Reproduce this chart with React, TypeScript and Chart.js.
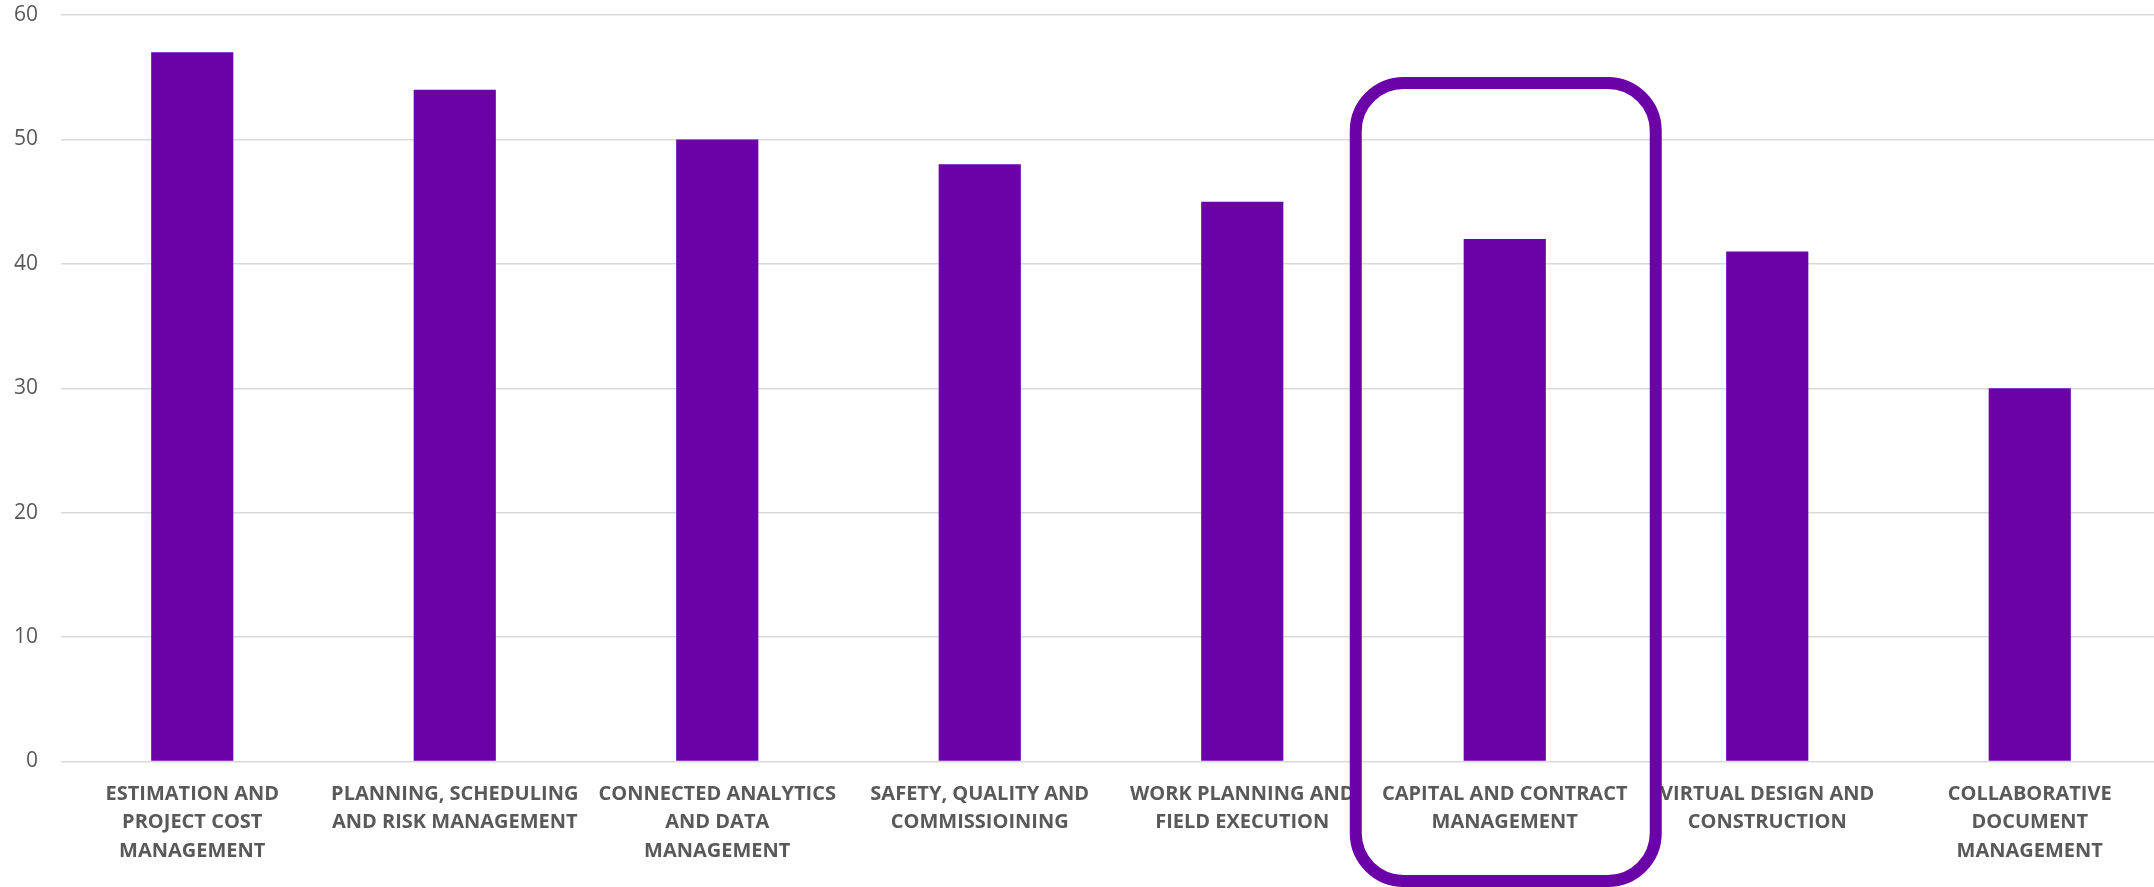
import React, { useEffect, useRef } from "react";
import { Chart, registerables } from "chart.js";

Chart.register(...registerables);

const categories: string[][] = [
  ["ESTIMATION AND", "PROJECT COST", "MANAGEMENT"],
  ["PLANNING, SCHEDULING", "AND RISK MANAGEMENT"],
  ["CONNECTED ANALYTICS", "AND DATA", "MANAGEMENT"],
  ["SAFETY, QUALITY AND", "COMMISSIOINING"],
  ["WORK PLANNING AND", "FIELD EXECUTION"],
  ["CAPITAL AND CONTRACT", "MANAGEMENT"],
  ["VIRTUAL DESIGN AND", "CONSTRUCTION"],
  ["COLLABORATIVE", "DOCUMENT", "MANAGEMENT"],
];

const values: number[] = [57, 54, 50, 48, 45, 42, 41, 30];

const highlightIndex = 5;

const PURPLE = "#6A02A8";
const TEXT = "#595959";

const highlightPlugin = {
  id: "highlightBox",
  afterDraw(chart: any) {
    const { ctx, chartArea } = chart;
    const x = chart.scales.x;
    const cx = x.getPixelForValue(highlightIndex) + 1;
    const halfW = 150;
    const left = cx - halfW;
    const right = cx + halfW;
    const top = chartArea.top + 68;
    const bottom = chart.height - 6;
    const r = 48;
    ctx.save();
    ctx.strokeStyle = PURPLE;
    ctx.lineWidth = 12;
    ctx.beginPath();
    ctx.moveTo(left + r, top);
    ctx.lineTo(right - r, top);
    ctx.arcTo(right, top, right, top + r, r);
    ctx.lineTo(right, bottom - r);
    ctx.arcTo(right, bottom, right - r, bottom, r);
    ctx.lineTo(left + r, bottom);
    ctx.arcTo(left, bottom, left, bottom - r, r);
    ctx.lineTo(left, top + r);
    ctx.arcTo(left, top, left + r, top, r);
    ctx.closePath();
    ctx.stroke();
    ctx.restore();
  },
};

export default function App() {
  const ref = useRef<HTMLCanvasElement | null>(null);

  useEffect(() => {
    if (!ref.current) return;
    const chart = new Chart(ref.current, {
      type: "bar",
      data: {
        labels: categories,
        datasets: [
          {
            data: values,
            backgroundColor: PURPLE,
            borderWidth: 0,
            barPercentage: 0.313,
            categoryPercentage: 1,
          },
        ],
      },
      options: {
        animation: false,
        responsive: false,
        maintainAspectRatio: false,
        layout: { padding: { top: 15, left: 0, right: 0, bottom: 0 } },
        plugins: {
          legend: { display: false },
          tooltip: { enabled: false },
        },
        scales: {
          x: {
            afterFit: (s: any) => {
              s.height = 125.5;
              s.paddingLeft = 0;
              s.paddingRight = 0;
            },
            grid: { display: false, drawTicks: false },
            border: { display: false },
            ticks: {
              color: TEXT,
              font: { family: "'Open Sans'", size: 20, weight: "bold", lineHeight: 1.43 },
              padding: 18,
              maxRotation: 0,
              autoSkip: false,
            },
          },
          y: {
            min: 0,
            max: 60,
            afterFit: (s: any) => {
              s.width = 61;
              s.paddingTop = 0;
              s.paddingBottom = 0;
            },
            grid: { color: "#d9d9d9", lineWidth: 1.5, drawTicks: false },
            border: { display: false },
            ticks: {
              stepSize: 10,
              color: TEXT,
              font: { family: "'Open Sans'", size: 21 },
              padding: 23,
            },
          },
        },
      },
      plugins: [highlightPlugin],
    });
    return () => chart.destroy();
  }, []);

  return (
    <div
      style={{
        position: "fixed",
        top: 0,
        left: 0,
        width: 2154,
        height: 887,
        overflow: "hidden",
        background: "#ffffff",
      }}
    >
      <canvas ref={ref} width={2161} height={887} style={{ display: "block" }} />
    </div>
  );
}
